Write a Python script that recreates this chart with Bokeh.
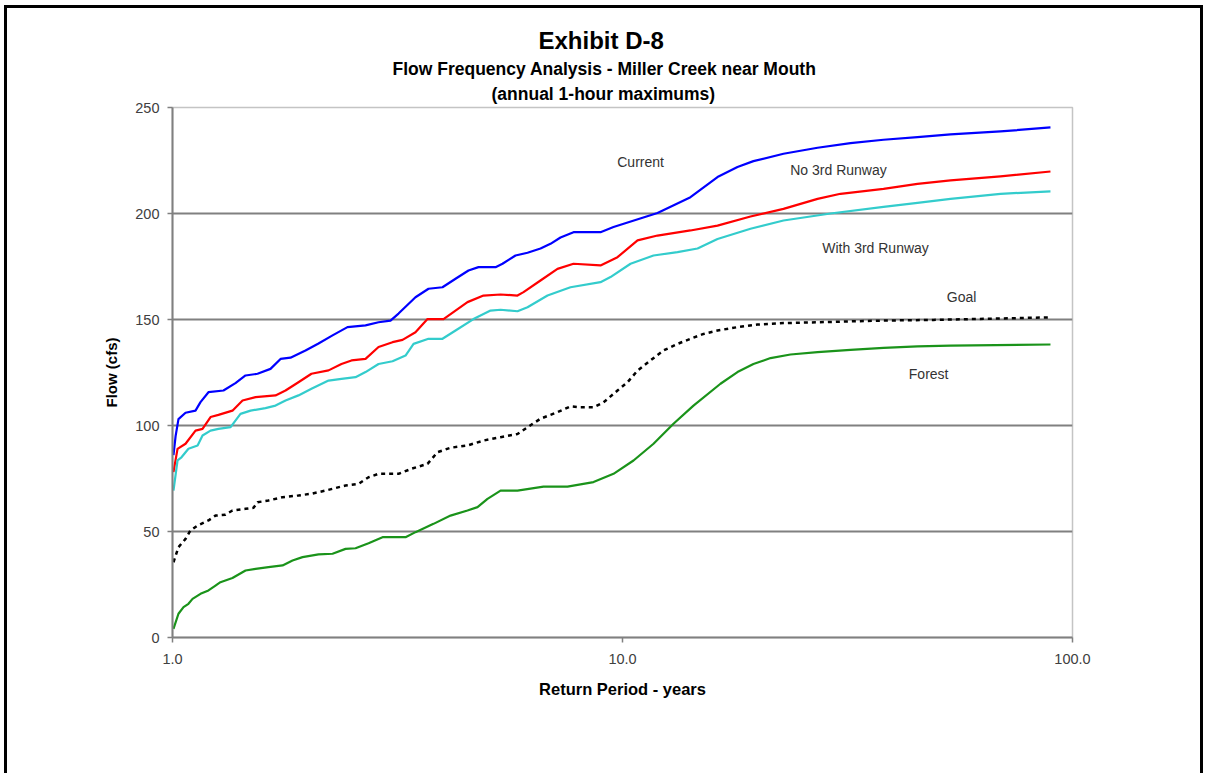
from bokeh.plotting import figure
from bokeh.models import Label, FixedTicker, Range1d, Title
from bokeh.embed import file_html
from bokeh.resources import INLINE

# ---- data (return period in years, flow in cfs) ----
current_t = [1.005, 1.016, 1.031, 1.069, 1.125, 1.154, 1.202, 1.298, 1.380, 1.453, 1.545, 1.651, 1.738, 1.829,
             1.975, 2.111, 2.268, 2.448, 2.685, 2.870, 3.051, 3.179, 3.467, 3.706, 3.981, 4.256, 4.547, 4.786,
             5.222, 5.412, 5.784, 6.151, 6.573, 6.918, 7.281, 7.783, 8.935, 9.550, 11.96, 14.16, 16.26, 18.01,
             19.54, 22.79, 27.13, 32.11, 38.02, 45.24, 53.57, 69.18, 89.34]
current_q = [86, 95, 103, 106, 107, 111, 115.7, 116.5, 120, 123.6, 124.4, 126.7, 131.4, 132,
             135.4, 138.7, 142.5, 146.4, 147.2, 148.7, 149.5, 152.8, 160.5, 164.5, 165.2, 169.2, 173.1, 174.7,
             174.7, 176.3, 180.2, 181.5, 183.5, 185.7, 188.7, 191.2, 191.2, 193.6, 200.2, 207.7, 217.2, 221.9,
             224.7, 228.2, 231, 233.2, 234.8, 236, 237.3, 238.7, 240.6]

no3rd_t = [1.005, 1.026, 1.069, 1.125, 1.166, 1.215, 1.265, 1.359, 1.431, 1.530, 1.694, 1.783, 1.905, 2.036,
           2.222, 2.374, 2.499, 2.685, 2.870, 3.083, 3.245, 3.467, 3.687, 4.002, 4.524, 4.910, 5.358, 5.843,
           6.026, 6.573, 7.170, 7.783, 8.935, 9.747, 10.80, 11.96, 14.16, 16.26, 19.25, 22.79, 27.13, 30.51,
           38.02, 45.24, 53.57, 69.18, 89.34]
no3rd_q = [78, 89, 91.4, 97.6, 98.4, 104, 105, 107, 111.8, 113.4, 114.2, 116.5, 120.4, 124.4,
           126, 129, 130.7, 131.4, 137, 139.3, 140.4, 144, 150.2, 150.2, 158.2, 161.3, 161.8, 161.3,
           162.9, 168.4, 173.9, 176.3, 175.5, 179.4, 187.3, 189.6, 192, 194.3, 198.6, 202.2, 206.9, 209.3,
           211.6, 214, 215.6, 217.5, 219.8]

with3rd_t = [1.005, 1.026, 1.047, 1.085, 1.137, 1.166, 1.215, 1.265, 1.346, 1.416, 1.491, 1.609, 1.694, 1.783,
             1.905, 2.036, 2.222, 2.374, 2.551, 2.685, 2.870, 3.083, 3.295, 3.433, 3.706, 3.981, 4.256, 4.665,
             5.090, 5.358, 5.843, 6.151, 6.813, 7.663, 8.935, 9.404, 10.42, 11.72, 13.25, 14.68, 16.26, 19.25,
             22.79, 28.99, 38.02, 45.24, 53.57, 69.18, 89.34]
with3rd_q = [69.3, 83.5, 85, 89, 90.6, 95.3, 97.6, 98.4, 99.2, 105.5, 107, 108.2, 109.4, 111.8,
             114.2, 117.3, 121.2, 122, 122.8, 125.2, 129, 130.3, 133, 138.5, 140.9, 140.9, 144.8, 150.2,
             154.2, 154.6, 153.9, 155.8, 161.3, 165.2, 167.6, 170, 176.3, 180.2, 181.8, 183.5, 188, 192.8,
             196.7, 200, 203.1, 205, 206.9, 209.3, 210.4]

goal_t = [1.005, 1.031, 1.069, 1.096, 1.137, 1.202, 1.246, 1.311, 1.359, 1.453, 1.514, 1.545, 1.634, 1.756,
          1.905, 2.036, 2.188, 2.424, 2.591, 2.727, 2.870, 3.179, 3.398, 3.687, 3.880, 4.148, 4.524, 4.910,
          5.358, 5.843, 6.151, 6.573, 7.170, 7.663, 8.064, 8.621, 9.074, 9.747, 10.26, 10.80, 11.54, 12.34,
          13.25, 14.16, 15.14, 16.26, 18.01, 19.95, 22.79, 27.13, 32.11, 38.02, 49.11, 89.34]
goal_q = [35.5, 42.6, 46.5, 50.5, 52.8, 55.2, 57.5, 57.9, 59.9, 60.7, 61.2, 63.8, 64.6, 66.2,
          67, 67.8, 69.3, 71.7, 72.5, 75.6, 77.2, 77.2, 79.6, 81.9, 87.4, 89.5, 90.6, 92.9,
          94.5, 96, 99.2, 103.2, 106.3, 109, 108.6, 108.6, 110.9, 116.5, 120.4, 125.9, 130.7, 135.4,
          138.5, 140.9, 143.2, 144.8, 146.4, 147.6, 148.3, 148.7, 149.1, 149.5, 149.8, 151]

forest_t = [1.005, 1.031, 1.058, 1.085, 1.108, 1.154, 1.202, 1.246, 1.278, 1.359, 1.453, 1.530, 1.634, 1.756,
            1.848, 1.945, 2.111, 2.268, 2.424, 2.551, 2.727, 2.929, 3.295, 3.467, 3.802, 4.148, 4.524, 4.762,
            5.012, 5.358, 5.843, 6.675, 7.547, 8.621, 9.550, 10.58, 11.72, 12.98, 14.38, 16.51, 18.01, 19.54,
            21.33, 23.62, 27.13, 32.11, 38.02, 45.24, 53.57, 89.34]
forest_q = [4.1, 11.2, 14.3, 15.9, 18.2, 20.6, 22.2, 24.5, 26.1, 28.1, 31.6, 32.4, 33.2, 34,
            36.3, 37.9, 39.2, 39.5, 41.8, 42.1, 44.5, 47.3, 47.3, 49.7, 53.6, 57.5, 59.9, 61.5,
            65.4, 69.3, 69.3, 71.2, 71.2, 73.3, 77.2, 83.5, 91.4, 100.8, 109.4, 119.7, 125.2, 129,
            131.8, 133.5, 134.6, 135.7, 136.6, 137.3, 137.7, 138.2]

y_ticks = [0, 50, 100, 150, 200, 250]
x_ticks = [1, 10, 100]
x_tick_labels = ["1.0", "10.0", "100.0"]

FONT = "Liberation Sans"

shadow = ("-3px 0 0 0 #000, 3px 0 0 0 #000, 0 -3px 0 0 #000, "
          "-3px -3px 0 0 #000, 3px -3px 0 0 #000")

p = figure(width=1193, height=765, x_axis_type="log",
           x_range=Range1d(1, 100), y_range=Range1d(0, 250),
           output_backend="svg", toolbar_location=None,
           min_border_left=165, min_border_right=128,
           min_border_top=99, min_border_bottom=136,
           background_fill_color="white", border_fill_color="white",
           styles={"box-shadow": shadow, "margin-left": "7px", "margin-top": "8px"})
p.title.visible = False

p.outline_line_color = "#c4c4c4"
p.outline_line_width = 1.5

p.xgrid.visible = False
p.ygrid.ticker = FixedTicker(ticks=[50, 100, 150, 200])
p.ygrid.grid_line_color = "#808080"
p.ygrid.grid_line_width = 2

for ax in (p.xaxis[0], p.yaxis[0]):
    ax.axis_line_color = "#808080"
    ax.axis_line_width = 2
    ax.major_tick_line_color = "#808080"
    ax.major_tick_line_width = 1.5
    ax.major_tick_out = 5
    ax.major_tick_in = 0
    ax.minor_tick_line_color = None
    ax.major_label_text_font = FONT
    ax.major_label_text_font_size = "14.5px"
    ax.major_label_text_color = "#404040"
    ax.axis_label_text_font = FONT
    ax.axis_label_text_font_style = "bold"
    ax.axis_label_text_color = "#000000"

p.xaxis.axis_label_text_font_size = "16.5px"
p.yaxis.axis_label_text_font_size = "15px"
p.yaxis.ticker = FixedTicker(ticks=y_ticks)
p.xaxis.ticker = FixedTicker(ticks=x_ticks)
p.xaxis.major_label_overrides = {t: s for t, s in zip(x_ticks, x_tick_labels)}
p.yaxis.axis_label = "Flow (cfs)"
p.xaxis.axis_label = "Return Period - years"
p.yaxis.major_label_standoff = 8
p.yaxis.axis_label_standoff = 12
p.xaxis.major_label_standoff = 11
p.xaxis.axis_label_standoff = 13

p.line(current_t, current_q, line_color="#0000FF", line_width=2.2, line_join="round")
p.line(no3rd_t, no3rd_q, line_color="#FF0000", line_width=2.2, line_join="round")
p.line(with3rd_t, with3rd_q, line_color="#33CCCC", line_width=2.2, line_join="round")
p.line(forest_t, forest_q, line_color="#1A931A", line_width=2.2, line_join="round")
p.line(goal_t, goal_q, line_color="#000000", line_width=2.5, line_dash="4 4")

series_labels = [("Current", 10.97, 224.5), ("No 3rd Runway", 30.2, 220.3),
                 ("With 3rd Runway", 36.5, 183.5), ("Goal", 56.7, 160.4), ("Forest", 47.9, 124.5)]
for txt, lx, ly in series_labels:
    p.add_layout(Label(x=lx, y=ly, text=txt, text_align="center", text_baseline="middle",
                       text_font=FONT, text_font_size="14px", text_color="#333333"))

# titles, nearest to the plot first
titles = [("(annual 1-hour maximums)", "17.5px", 319, 7),
          ("Flow Frequency Analysis - Miller Creek near Mouth", "17.5px", 220, 0),
          ("Exhibit D-8", "24px", 366, 6)]
for txt, fs, off, sd in titles:
    p.add_layout(Title(text=txt, align="left", offset=off, standoff=sd,
                       text_font=FONT, text_font_size=fs, text_font_style="bold",
                       text_color="#000000"), "above")

open("out.html", "w").write(file_html(p, INLINE))
